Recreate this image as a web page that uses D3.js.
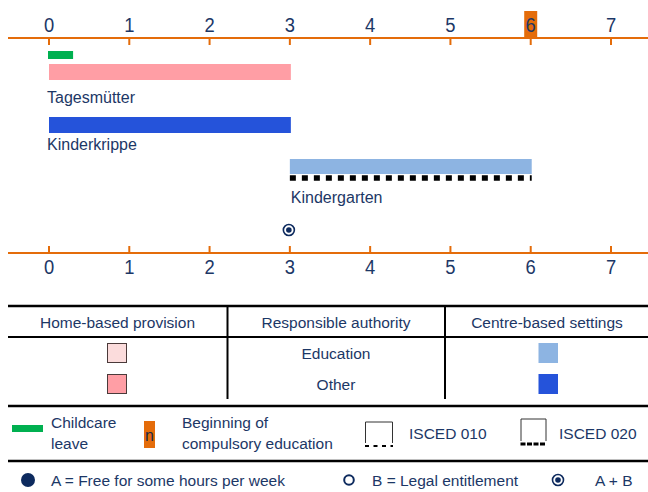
<!DOCTYPE html>
<html><head><meta charset="utf-8">
<script src="https://cdn.jsdelivr.net/npm/d3@7"></script>
<style>
html,body{margin:0;padding:0;background:#fff;}
svg{display:block;font-family:"Liberation Sans",Arial,sans-serif;}
</style></head>
<body>
<svg id="c" width="648" height="492"></svg>
<script>
// ---- data ----
const years = [0,1,2,3,4,5,6,7];
const compulsoryAge = 6;
const childcareLeave = [0, 0.3];
const settingNames = ["Tagesmütter","Kinderkrippe","Kindergarten"];
const settingStart = [0, 0, 3];
const settingEnd = [3, 3, 6];
const settingType = ["home-other","centre-other","centre-education"];
const settingIsced = ["", "", "020"];
const entitlementAge = [3];
const entitlementType = ["A+B"];
const tableHeaders = ["Home-based provision","Responsible authority","Centre-based settings"];
const authorities = ["Education","Other"];

// ---- style ----
const C = {
  orange:"#e46c0a", navy:"#1c3766", dot:"#0d2a5e", green:"#00b050",
  "home-education":"#fbdcdc", "home-other":"#ff9ea5",
  "centre-education":"#8db4e2", "centre-other":"#2553da"
};
const svg = d3.select("#c");
const x = d3.scaleLinear().domain([0,7]).range([49,611]);

// axes
function axis(yLine, tickDir, labelY){
  const g = svg.append("g");
  g.append("line").attr("x1",8).attr("x2",648).attr("y1",yLine).attr("y2",yLine)
    .attr("stroke",C.orange).attr("stroke-width",2);
  g.selectAll("line.t").data(years).join("line").attr("class","t")
    .attr("x1",d=>x(d)).attr("x2",d=>x(d)).attr("y1",yLine).attr("y2",yLine+tickDir*7)
    .attr("stroke",C.orange).attr("stroke-width",2);
  g.selectAll("text").data(years).join("text")
    .attr("transform",d=>`translate(${x(d)},${labelY}) scale(0.92,1.05)`)
    .attr("text-anchor","middle")
    .attr("font-size",20).attr("fill",C.navy).text(d=>d);
  return g;
}
// highlight compulsory age on top axis
svg.append("rect").attr("x",x(compulsoryAge)-6.5).attr("y",11).attr("width",13).attr("height",26).attr("fill",C.orange);
axis(38, 1, 32);
axis(253, -1, 274);

// childcare leave
svg.append("rect").attr("x",x(childcareLeave[0])-1).attr("y",51).attr("width",x(childcareLeave[1])-x(childcareLeave[0])+1)
  .attr("height",8).attr("fill",C.green);

// settings bars
const rowTop = [64,117,159];
const labelOff = [39,33,44];
const labelDx = [-2,-2,1];
const barH = 16;
settingNames.forEach((n,i)=>{
  const x0 = x(settingStart[i]), x1 = x(settingEnd[i])+1;
  svg.append("rect").attr("x",x0).attr("y",rowTop[i]).attr("width",x1-x0).attr("height",barH-(i==2?1:0))
    .attr("fill",C[settingType[i]]);
  if(settingIsced[i]==="020"){
    svg.append("line").attr("x1",x0).attr("x2",x1).attr("y1",rowTop[i]+barH+3).attr("y2",rowTop[i]+barH+3)
      .attr("stroke","#000").attr("stroke-width",5.5).attr("stroke-dasharray","6,6");
  }
  svg.append("text").attr("x",x0+labelDx[i]).attr("y",rowTop[i]+labelOff[i]).attr("font-size",16).attr("fill",C.navy).text(n);
});

// entitlement marker
entitlementAge.forEach((a,i)=>{
  const cx = x(a)-1, cy = 230;
  svg.append("circle").attr("cx",cx).attr("cy",cy).attr("r",5.5).attr("fill","#fff").attr("stroke",C.dot).attr("stroke-width",1.6);
  if(entitlementType[i]==="A+B") svg.append("circle").attr("cx",cx).attr("cy",cy).attr("r",2.8).attr("fill",C.dot);
});

// ---- legend table ----
function hline(y,w){ svg.append("line").attr("x1",8).attr("x2",648).attr("y1",y).attr("y2",y).attr("stroke","#000").attr("stroke-width",w); }
hline(306,2.5); hline(337,2); hline(406,2.5); hline(461,2.5);
[227.5,445].forEach(vx=>svg.append("line").attr("x1",vx).attr("x2",vx).attr("y1",306).attr("y2",399).attr("stroke","#000").attr("stroke-width",2));
const colC = [117.5,336,547];
tableHeaders.forEach((h,i)=>svg.append("text").attr("x",colC[i]).attr("y",327.5).attr("text-anchor","middle")
  .attr("font-size",15.5).attr("fill",C.navy).text(h));
const rowY = [343,374];
authorities.forEach((a,i)=>{
  const key = a==="Education" ? "education" : "other";
  svg.append("rect").attr("x",107.5).attr("y",rowY[i]+0.5).attr("width",19).attr("height",19)
    .attr("fill",C["home-"+key]).attr("stroke","#4a3a3a").attr("stroke-width",1);
  svg.append("rect").attr("x",538.5).attr("y",rowY[i]).attr("width",19.5).attr("height",20)
    .attr("fill",C["centre-"+key]);
  svg.append("text").attr("x",colC[1]).attr("y",rowY[i]+15.5).attr("text-anchor","middle")
    .attr("font-size",15.5).attr("fill",C.navy).text(a);
});

// ---- key row 1 ----
svg.append("line").attr("x1",12).attr("x2",43).attr("y1",428.5).attr("y2",428.5).attr("stroke",C.green).attr("stroke-width",7);
function txt(xx,yy,s){ svg.append("text").attr("x",xx).attr("y",yy).attr("font-size",15.5).attr("fill",C.navy).text(s); }
txt(51,428,"Childcare"); txt(51,449,"leave");
svg.append("rect").attr("x",144).attr("y",421).attr("width",11).attr("height",27).attr("fill",C.orange);
svg.append("text").attr("x",149.5).attr("y",441).attr("text-anchor","middle").attr("font-size",16).attr("fill","#1a2a4a").text("n");
txt(182,428,"Beginning of"); txt(182,449,"compulsory education");
function iscedIcon(x0,x1,yt,yb,dash,w){
  svg.append("path").attr("d",`M${x0},${yb-3}V${yt}H${x1}V${yb-3}`).attr("fill","none").attr("stroke","#333").attr("stroke-width",1);
  svg.append("line").attr("x1",x0-0.5).attr("x2",x1+0.5).attr("y1",yb).attr("y2",yb).attr("stroke","#000").attr("stroke-width",w).attr("stroke-dasharray",dash);
}
iscedIcon(365.5,392.5,422,446,"4,4.5",2);
iscedIcon(521,546,419,444,"5,1.5",3.2);
txt(409,439,"ISCED 010"); txt(559,439,"ISCED 020");

// ---- key row 2 ----
svg.append("circle").attr("cx",28).attr("cy",480).attr("r",7).attr("fill",C.dot);
txt(51,486,"A = Free for some hours per week");
svg.append("circle").attr("cx",349).attr("cy",480).attr("r",4.8).attr("fill","none").attr("stroke",C.dot).attr("stroke-width",2);
txt(372,486,"B = Legal entitlement");
svg.append("circle").attr("cx",558).attr("cy",480).attr("r",5.5).attr("fill","none").attr("stroke",C.dot).attr("stroke-width",1.6);
svg.append("circle").attr("cx",558).attr("cy",480).attr("r",2.8).attr("fill",C.dot);
txt(595,486,"A + B");
</script>
</body></html>
